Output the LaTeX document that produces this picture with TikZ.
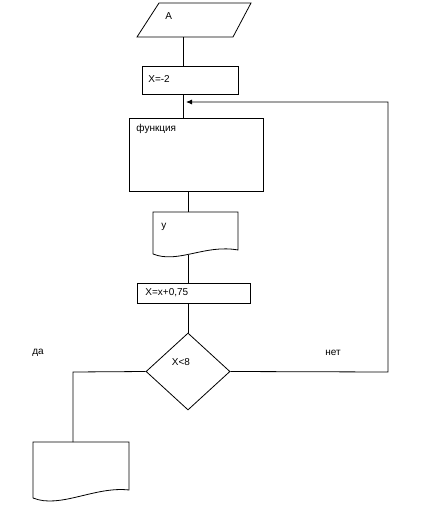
\documentclass[tikz,border=0pt]{standalone}
\usepackage{fontspec}
\setmainfont{Liberation Sans}
\usetikzlibrary{shapes.geometric,arrows.meta}
\begin{document}
\begin{tikzpicture}[x=1pt,y=-1pt,
  line width=0.8pt,
  boxshape/.style={draw, rectangle, inner sep=0pt},
  txt/.style={inner sep=0pt, anchor=west, font=\fontsize{10}{11}\selectfont},
  arr/.style={-{Latex[length=6pt,width=5pt]}}]
\path[fill=white] (0,0) rectangle (422,522);
\useasboundingbox (0,0) rectangle (422,522);
% parallelogram A
\coordinate (pa1) at (159,3);
\coordinate (pa2) at (251,3);
\coordinate (pa3) at (233,37);
\coordinate (pa4) at (137,37);
\draw (pa1) -- (pa2) -- (pa3) -- (pa4) -- cycle;
\coordinate (pab) at (183,37);
\node[txt] (tA) at (165,16) {A};
% X=-2
\node[boxshape, minimum width=96pt, minimum height=28pt] (b1) at (190,80) {};
\node[txt] (t1) at (148,79) {X=-2};
% function
\node[boxshape, minimum width=134pt, minimum height=73pt] (b2) at (196,154.5) {};
\node[txt] (t2) at (136,129) {функция};
% y document
\coordinate (d1tl) at (153,212);
\coordinate (d1tr) at (238,212);
\coordinate (d1top) at (188,212);
\draw (153,254) -- (d1tl) -- (d1tr) -- (238,250) .. controls (205,244) and (178,264) .. (153,254);
\coordinate (d1bot) at (188,255);
\node[txt] (t3) at (161,227) {y};
% X=x+0,75
\node[boxshape, minimum width=113pt, minimum height=20pt] (b3) at (193.5,293) {};
\node[txt] (t4) at (145,293) {X=x+0,75};
% diamond
\node[draw, diamond, inner sep=0pt, minimum width=84pt, minimum height=77pt] (dm) at (188,371.5) {};
\node[inner sep=0pt, font=\fontsize{10}{11}\selectfont] (t5) at (181,362) {X<8};
% bottom document
\coordinate (d2top) at (73,442);
\draw (33,498) -- (33,442) -- (129,442) -- (129,490) .. controls (95,486) and (60,509) .. (33,498);
% labels
\node[txt] (tda) at (32,353) {да};
\node[txt] (tnet) at (325,353) {нет};
% connectors
\draw (pab) -- (183,66);
\draw (183,94) -- (183,117.5);
\draw (188,191) -- (d1top);
\draw (d1bot) -- (188,283);
\draw (188,303) -- (dm.north);
\draw (dm.west) -- (73,372) -- (d2top);
\coordinate (lp1) at (388,372);
\coordinate (lp2) at (388,102);
\coordinate (lp3) at (186,102);
\draw[arr] (dm.east) -- (lp1) -- (lp2) -- (lp3);
\end{tikzpicture}
\end{document}
